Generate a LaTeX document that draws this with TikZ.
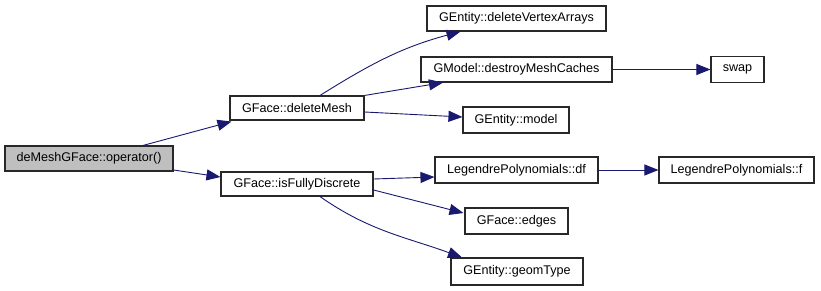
\documentclass[tikz,border=0pt]{standalone}
\usepackage{fontspec}
\setmainfont{Liberation Sans}
\usetikzlibrary{arrows.meta}
\definecolor{edgeblue}{RGB}{25,25,112}
\definecolor{rootgray}{RGB}{191,191,191}
\definecolor{boxline}{RGB}{40,40,40}
\begin{document}
\begin{tikzpicture}[x=1pt,y=-1pt,
  fn/.style={draw=boxline,line width=1.1pt,fill=white,rectangle,inner sep=0pt,
    font=\fontsize{12.6}{15}\selectfont},
  rootfn/.style={fn,fill=rootgray},
  call/.style={draw=edgeblue,line width=0.9pt,
    -{Triangle[length=14pt,width=11pt,fill=edgeblue]}}]
\useasboundingbox[fill=white] (0,0) rectangle (821,291);

% functions
\node[rootfn,minimum width=168pt,minimum height=25pt] (root) at (89,158.5) {deMeshGFace::operator()};
\node[fn,minimum width=134pt,minimum height=24pt] (delmesh) at (297,108) {GFace::deleteMesh};
\node[fn,minimum width=152pt,minimum height=24pt] (isfd) at (297,184) {GFace::isFullyDiscrete};
\node[fn,minimum width=179pt,minimum height=25pt] (dva) at (516.5,18.5) {GEntity::deleteVertexArrays};
\node[fn,minimum width=191pt,minimum height=25pt] (dmc) at (516.5,69.5) {GModel::destroyMeshCaches};
\node[fn,minimum width=106pt,minimum height=26pt] (model) at (516,120) {GEntity::model};
\node[fn,minimum width=163pt,minimum height=26pt] (df) at (516.5,170) {LegendrePolynomials::df};
\node[fn,minimum width=103pt,minimum height=26pt] (edges) at (516.5,221) {GFace::edges};
\node[fn,minimum width=132pt,minimum height=27pt] (geom) at (517,271.5) {GEntity::geomType};
\node[fn,minimum width=53pt,minimum height=26pt] (swap) at (737.5,69.5) {swap};
\node[fn,minimum width=155pt,minimum height=26pt] (lpf) at (736.5,170) {LegendrePolynomials::f};

% calls
\draw[call] ([xshift=54pt]root.north) -- ([xshift=2pt,yshift=-1pt]delmesh.south west);
\draw[call] ([yshift=-11.5pt]root.east) -- ([yshift=7pt]isfd.west);
\draw[call] ([xshift=23pt]delmesh.north) to[out=32,in=195] ([xshift=-56pt]dva.south);
\draw[call] (delmesh.north east) -- ([xshift=-73.5pt]dmc.south);
\draw[call] ([yshift=-4pt]delmesh.east) -- ([yshift=3pt]model.west);
\draw[call] ([yshift=5pt]isfd.east) -- ([yshift=-7pt]df.west);
\draw[call] ([yshift=-6pt]isfd.east) -- ([xshift=-1pt,yshift=8pt]edges.west);
\draw[call] ([xshift=23pt]isfd.south) to[out=-35,in=160] ([xshift=-55pt]geom.north);
\draw[call] (dmc.east) -- (swap.west);
\draw[call] (df.east) -- (lpf.west);
\end{tikzpicture}
\end{document}
